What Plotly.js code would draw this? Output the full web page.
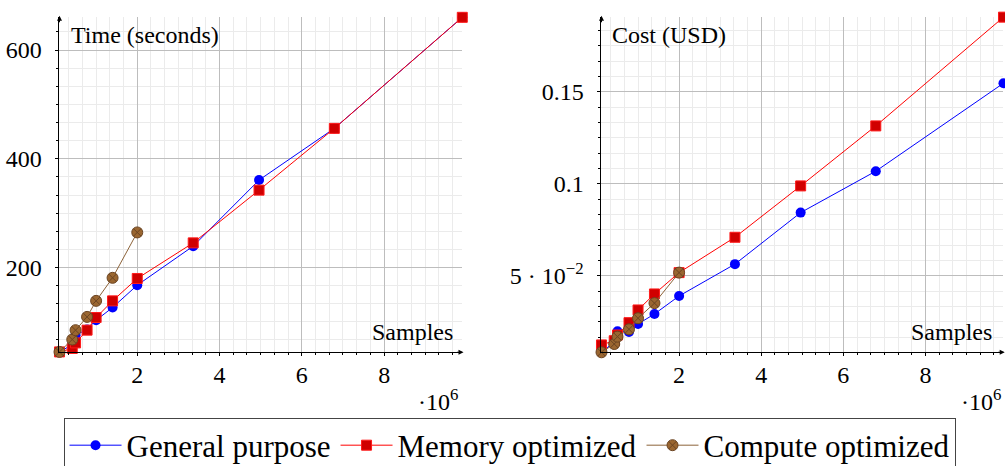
<!DOCTYPE html>
<html>
<head>
<meta charset="utf-8">
<script src="https://cdn.plot.ly/plotly-3.0.1.min.js"></script>
<style>
  html, body { margin: 0; padding: 0; background: #ffffff; }
  #chart { width: 1005px; height: 466px; }
</style>
</head>
<body>
<div id="chart"></div>
<script>
// ---- data (samples in millions, i.e. ×10^6) ----
const samples = [0.11, 0.42, 0.5, 0.78, 1.0, 1.4, 2.0, 3.36, 4.96, 6.79, 9.9];
const samplesCompute = [0.11, 0.42, 0.5, 0.78, 1.0, 1.4, 2.0];

const timeGeneral = [44.7, 58, 75.5, 86, 103, 126.4, 167.5, 239.3, 360.8, 455.9, 660.2];
const timeMemory  = [44.7, 51, 61.3, 84.7, 108, 138.6, 179.8, 245.3, 342.3, 455.9, 660.2];
const timeCompute = [44.7, 67.5, 84.7, 109.1, 138.6, 181, 264.5];

const costGeneral = [0.0086, 0.014, 0.0199, 0.0195, 0.0239, 0.0293, 0.0391, 0.0564, 0.0844, 0.1069, 0.1547];
const costMemory  = [0.0125, 0.0148, 0.0179, 0.0246, 0.0315, 0.0402, 0.0518, 0.071, 0.0989, 0.1315, 0.1906];
const costCompute = [0.0085, 0.013, 0.017, 0.021, 0.027, 0.0352, 0.0518];

const seriesNames = ['General purpose', 'Memory optimized', 'Compute optimized'];
const xTickVals = [2, 4, 6, 8];
const xTickText = ['2', '4', '6', '8'];
const costTickVals = [0.05, 0.1, 0.15];
const costTickText = ['5 · 10<sup>−2</sup>', '0.1', '0.15'];
const timeTickVals = [200, 400, 600];
const timeTickText = ['200', '400', '600'];

// ---- styles ----
const FONT = '"Liberation Serif", "Times New Roman", serif';
const styles = [
  {line: {color: '#0000ff', width: 1}, marker: {symbol: 'circle', size: 10, color: '#0000ff', line: {color: '#0000ff', width: 0}}},
  {line: {color: '#ff0000', width: 1}, marker: {symbol: 'square', size: 10, color: '#d00000', line: {color: '#ff1a1a', width: 1}}},
  {line: {color: '#8c6239', width: 1}, marker: {symbol: 'circle-x', size: 11, color: '#9a6630', line: {color: '#6b4422', width: 1}}}
];

function trace(x, y, i, xa, ya, showlegend) {
  return {
    type: 'scatter', mode: 'lines+markers', x: x, y: y,
    xaxis: xa, yaxis: ya, name: seriesNames[i], showlegend: showlegend,
    line: styles[i].line, marker: styles[i].marker, cliponaxis: false
  };
}

const data = [
  trace(samples, timeGeneral, 0, 'x', 'y', true),
  trace(samples, timeMemory, 1, 'x', 'y', true),
  trace(samplesCompute, timeCompute, 2, 'x', 'y', true),
  trace(samples, costGeneral, 0, 'x2', 'y2', false),
  trace(samples, costMemory, 1, 'x2', 'y2', false),
  trace(samplesCompute, costCompute, 2, 'x2', 'y2', false)
];

const tickFont = {family: FONT, size: 24, color: '#000000'};
const majorGrid = '#bdbdbd';
const minorGrid = '#ebebeb';

function xAxis(domain, anchor) {
  return {
    domain: domain, anchor: anchor, range: [samples[0], samples[samples.length - 1]],
    tickmode: 'array', tickvals: xTickVals, ticktext: xTickText,
    showline: true, linecolor: '#000000', linewidth: 1, mirror: false,
    ticks: 'outside', ticklen: 3, tickcolor: '#000000', tickwidth: 1,
    showgrid: true, gridcolor: majorGrid, gridwidth: 1, zeroline: false,
    tickfont: tickFont, ticklabelstandoff: -2,
    minor: {tickmode: 'linear', tick0: 0, dtick: 1 / 3, ticks: 'outside', ticklen: 2, tickcolor: '#000000', showgrid: true, gridcolor: minorGrid, gridwidth: 1},
    fixedrange: true
  };
}
function yAxis(anchor, range, vals, text, minorDtick) {
  return {
    domain: [0.244, 0.964], anchor: anchor, range: range,
    tickmode: 'array', tickvals: vals, ticktext: text,
    showline: true, linecolor: '#000000', linewidth: 1, mirror: false,
    ticks: 'outside', ticklen: 3, tickcolor: '#000000', tickwidth: 1,
    showgrid: true, gridcolor: majorGrid, gridwidth: 1, zeroline: false,
    tickfont: tickFont, ticklabelstandoff: 9,
    minor: {tickmode: 'linear', tick0: 0, dtick: minorDtick, ticks: 'outside', ticklen: 2, tickcolor: '#000000', showgrid: true, gridcolor: minorGrid, gridwidth: 1},
    fixedrange: true
  };
}

const labelFont = {family: FONT, size: 24, color: '#000000'};
function label(text, xref, yref, x, y, xanchor, yanchor) {
  return {text: text, xref: xref, yref: yref, x: x, y: y, xanchor: xanchor, yanchor: yanchor, showarrow: false, font: labelFont, bgcolor: 'rgba(0,0,0,0)'};
}
function arrow(xref, yref, x, y, ax, ay) {
  return {text: '', xref: xref, yref: yref, x: x, y: y, ax: ax, ay: ay, showarrow: true, arrowhead: 2, arrowsize: 1, arrowwidth: 1, arrowcolor: '#000000'};
}

const layout = {
  width: 1005, height: 466,
  margin: {l: 0, r: 0, t: 0, b: 0, pad: 0, autoexpand: false},
  paper_bgcolor: '#ffffff', plot_bgcolor: '#ffffff',
  font: {family: FONT, color: '#000000'},
  xaxis: xAxis([0.0592, 0.46], 'y'),
  yaxis: yAxis('x', [44, 661.2], timeTickVals, timeTickText, 200 / 6),
  xaxis2: xAxis([0.5985, 0.9985], 'y2'),
  yaxis2: yAxis('x2', [0.0085, 0.1908], costTickVals, costTickText, 0.05 / 6),
  showlegend: true,
  legend: {
    orientation: 'h', x: 0.507, xanchor: 'center', y: 0.104, yanchor: 'top',
    font: {family: FONT, size: 31, color: '#000000'},
    bgcolor: '#ffffff', bordercolor: '#444444', borderwidth: 1,
    itemwidth: 52, itemclick: false, itemdoubleclick: false
  },
  annotations: [
    label('Time (seconds)', 'x domain', 'y domain', 0.023, 0.946, 'left', 'middle'),
    label('Samples', 'x domain', 'y domain', 0.981, 0.06, 'right', 'middle'),
    label('·10<sup>6</sup>', 'x domain', 'y domain', 0.994, -0.142, 'right', 'middle'),
    label('Cost (USD)', 'x2 domain', 'y2 domain', 0.022, 0.946, 'left', 'middle'),
    label('Samples', 'x2 domain', 'y2 domain', 0.976, 0.06, 'right', 'middle'),
    label('·10<sup>6</sup>', 'x2 domain', 'y2 domain', 0.998, -0.142, 'right', 'middle'),
    arrow('x domain', 'y domain', 1.003, 0, -8, 0),
    arrow('x domain', 'y domain', 0, 1.003, 0, 8),
    arrow('x2 domain', 'y2 domain', 1.003, 0, -8, 0),
    arrow('x2 domain', 'y2 domain', 0, 1.003, 0, 8)
  ]
};

Plotly.newPlot('chart', data, layout, {staticPlot: true, displayModeBar: false});
</script>
</body>
</html>
